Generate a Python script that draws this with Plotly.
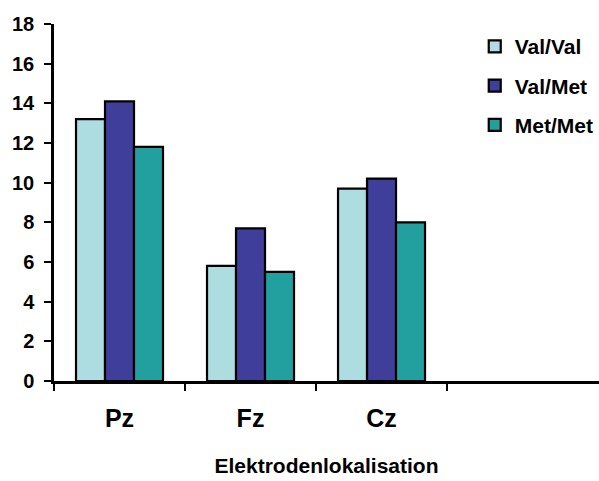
import plotly.graph_objects as go

# Electrode sites and mean values per genotype group
sites = ["Pz", "Fz", "Cz"]
val_val = [13.2, 5.8, 9.7]
val_met = [14.1, 7.7, 10.2]
met_met = [11.8, 5.5, 8.0]

series = [
    ("Val/Val", val_val, "#ADDDE1"),
    ("Val/Met", val_met, "#3F3F9B"),
    ("Met/Met", met_met, "#22A09F"),
]

y_ticks = list(range(0, 19, 2))

font_family = "Liberation Sans, Arial, sans-serif"

fig = go.Figure()
for name, values, color in series:
    fig.add_trace(go.Bar(
        x=sites,
        y=values,
        name=name,
        legendgroup=name,
        marker=dict(color=color, line=dict(color="black", width=2.2)),
    ))

fig.update_layout(
    width=599,
    height=481,
    margin=dict(l=54, r=0, t=24, b=100, autoexpand=False),
    paper_bgcolor="white",
    plot_bgcolor="white",
    barmode="group",
    bargap=0.336,
    bargroupgap=0,
    font=dict(family=font_family, color="black"),
    showlegend=True,
    legend=dict(
        x=0.772, y=0.994, xanchor="left", yanchor="top",
        font=dict(family=font_family, size=21, color="black", weight="bold"),
        bgcolor="rgba(0,0,0,0)",
        itemwidth=30,
        traceorder="grouped",
        tracegroupgap=9,
    ),
    xaxis=dict(
        type="category",
        range=[-0.5, 3.66],
        tickson="boundaries",
        ticks="outside",
        ticklen=7,
        tickwidth=2,
        tickcolor="black",
        showline=True,
        linecolor="black",
        linewidth=2.5,
        showgrid=False,
        tickfont=dict(family=font_family, size=25, color="black", weight="bold"),
        ticklabelstandoff=13,
        title=dict(
            text="Elektrodenlokalisation",
            font=dict(family=font_family, size=21, color="black", weight="bold"),
            standoff=28,
        ),
    ),
    yaxis=dict(
        range=[0, 18],
        tickvals=y_ticks,
        ticks="outside",
        ticklen=7,
        tickwidth=2,
        tickcolor="black",
        showline=True,
        linecolor="black",
        linewidth=2.5,
        showgrid=False,
        zeroline=False,
        tickfont=dict(family=font_family, size=20, color="black", weight="bold"),
        ticklabelstandoff=6,
    ),
)

fig.write_html("out.html")
